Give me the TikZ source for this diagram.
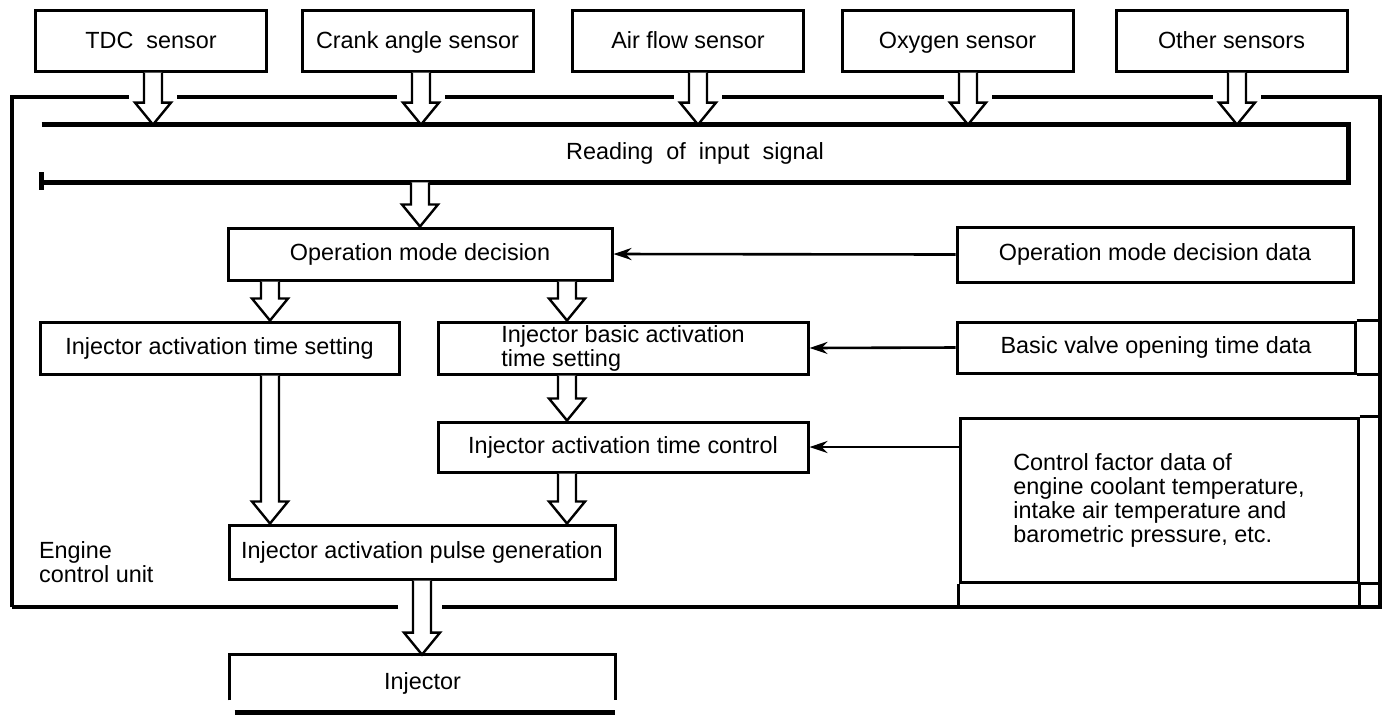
\documentclass[tikz,border=0pt]{standalone}
\usepackage{fontspec}
\setmainfont{Liberation Sans}
\usetikzlibrary{arrows.meta,calc}
% hollow block arrow from a point straight down to a tip
\newcommand{\hollowarrow}[2]{%
  \draw[harrow] let \p1=#1, \p2=#2 in
   (\x1-4.5pt,\y1) -- (\x1-4.5pt,\y2+11pt) -- (\x1-9pt,\y2+11pt) -- (\x1,\y2)
   -- (\x1+9pt,\y2+11pt) -- (\x1+4.5pt,\y2+11pt) -- (\x1+4.5pt,\y1);}

\begin{document}
\begin{tikzpicture}[x=0.5pt,y=-0.5pt,font=\fontsize{11.7}{12}\selectfont]
\tikzset{box/.style={draw,line width=1.5pt,inner sep=2pt,minimum height=26pt},
 rule/.style={line width=1.5pt},
 bar/.style={line width=2.25pt},
 frameline/.style={line width=1.75pt},
 harrow/.style={line width=1.2pt,fill=white,line join=miter},
 feed/.style={line width=1.3pt,-{Stealth[length=9pt,width=6pt]}}}
\useasboundingbox (0,0) rectangle (1387,714);
\coordinate (fr) at (1380,607);
\coordinate (lcol) at (270,0);
\coordinate (rcol) at (567,0);
% engine control unit frame
\draw[frameline] (12,607) -- (12,97) -- (129,97) (177,97) -- (397,97) (445,97) -- (674,97)
 (722,97) -- (944,97) (992,97) -- (1213,97) (1261,97) -- (1380,97) -- (fr) -- (442,607)
 (398,607) -- (12,607);
\node[align=left,anchor=west] (ecu) at (32,562) {Engine\\control unit};
% input signal stage
\node[minimum width=653pt,minimum height=28.5pt] (read) at (695,153.5) {Reading\ \ of\ \ input\ \ signal};
\draw[bar] (read.north west) -- (read.north east) -- (read.south east) -- (read.south west);
\draw[bar] ($(read.south west)+(0,-10)$) -- ($(read.south west)+(0,8)$);
% sensors
\foreach \s/\sx/\d/\t in {tdc/151/2/TDC\ \ sensor,crank/417.5/3.5/Crank angle sensor,
  air/688/10/Air flow sensor,oxy/957.5/10.5/Oxygen sensor,other/1231.5/5.5/Other sensors}{
  \node[box,minimum width=115.5pt,minimum height=30.5pt,text height=10pt,text depth=1.6pt] (\s) at (\sx,40.5) {\t};
  \coordinate (in\s) at ($(\s.south)+(\d,0)$);
  \coordinate (tip\s) at (in\s |- read.north);
  \hollowarrow{(in\s)}{(tip\s)}
}
% processing boxes
\node[box,minimum width=192pt] (op) at (420,254) {Operation mode decision};
\node[box,minimum width=179.5pt] (ats) at (219.5,348) {Injector activation time setting};
\node[box,minimum width=185pt,inner sep=1pt,align=left] (basic) at (623,348) {Injector basic activation\\time setting};
\node[box,minimum width=185pt,minimum height=25pt] (ctrl) at (623,447) {Injector activation time control};
\node[box,minimum width=193pt,minimum height=27pt] (pulse) at (422,552) {Injector activation pulse generation};
\node[minimum width=192.5pt,minimum height=28.5pt] (inj) at (422.5,683.5) {Injector};
\draw[rule] ($(inj.south west)+(0,-12)$) -- (inj.north west) -- (inj.north east) -- ($(inj.south east)+(0,-12)$);
\draw[bar] ($(inj.south west)+(5,0)$) -- (inj.south east);
% data boxes
\node[box,minimum width=198pt,minimum height=27.5pt] (opd) at (1155,254.5) {Operation mode decision data};
\node[box,minimum width=199pt,minimum height=25.5pt] (bvd) at (1156,347.5) {Basic valve opening time data};
\node[box,minimum width=199pt,minimum height=82pt,align=left] (cfd) at (1159,500)
 {Control factor data of\\engine coolant temperature,\\intake air temperature and\\barometric pressure, etc.};
\draw[rule] (bvd.north east) -- (bvd.north east -| fr) (bvd.south east) -- (bvd.south east -| fr)
 (cfd.north east) -- (cfd.north east -| fr) (cfd.south east) -- (cfd.south east -| fr)
 (cfd.south west) -- (cfd.south west |- fr) (cfd.south east) -- (cfd.south east |- fr);
% data feeds
\draw[feed] (opd.west) -- (op.east);
\draw[feed] (bvd.west) -- (basic.east);
\draw[feed] (cfd.west |- ctrl.east) -- (ctrl.east);
% flow between stages
\hollowarrow{(read.south -| op.north)}{(op.north)}
\hollowarrow{(op.south -| lcol)}{(ats.north -| lcol)}
\hollowarrow{(op.south -| rcol)}{(basic.north -| rcol)}
\hollowarrow{(basic.south -| rcol)}{(ctrl.north -| rcol)}
\hollowarrow{(ctrl.south -| rcol)}{(pulse.north -| rcol)}
\hollowarrow{(ats.south -| lcol)}{(pulse.north -| lcol)}
\hollowarrow{(pulse.south)}{(inj.north)}
\end{tikzpicture}
\end{document}
